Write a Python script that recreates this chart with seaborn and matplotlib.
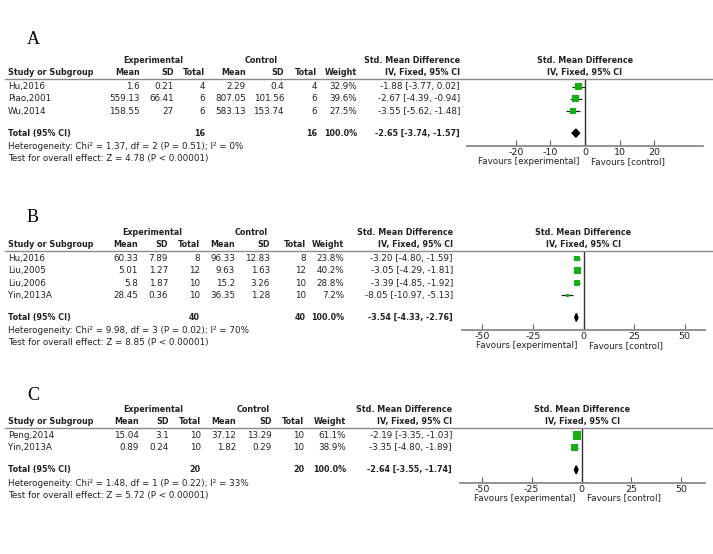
"""
Forest plots (panels A, B, C) - Std. Mean Difference, IV, Fixed
"""

import numpy as np
import pandas as pd
import matplotlib.pyplot as plt
import seaborn as sns
from matplotlib.lines import Line2D

# ============================================================================
# Data
# ============================================================================

# Panel A
studies_a = ['Hu,2016', 'Piao,2001', 'Wu,2014']
exp_mean_a = [1.6, 559.13, 158.55]
exp_sd_a = [0.21, 66.41, 27]
exp_n_a = [4, 6, 6]
ctl_mean_a = [2.29, 807.05, 583.13]
ctl_sd_a = [0.4, 101.56, 153.74]
ctl_n_a = [4, 6, 6]
weight_a = [32.9, 39.6, 27.5]
smd_a = [-1.88, -2.67, -3.55]
lo_a = [-3.77, -4.39, -5.62]
hi_a = [0.02, -0.94, -1.48]
total_a = [-2.65, -3.74, -1.57]   # estimate, lower, upper
het_a = 'Heterogeneity: Chi² = 1.37, df = 2 (P = 0.51); I² = 0%'
test_a = 'Test for overall effect: Z = 4.78 (P < 0.00001)'
ticks_a = [-20, -10, 0, 10, 20]

# Panel B
studies_b = ['Hu,2016', 'Liu,2005', 'Liu,2006', 'Yin,2013A']
exp_mean_b = [60.33, 5.01, 5.8, 28.45]
exp_sd_b = [7.89, 1.27, 1.87, 0.36]
exp_n_b = [8, 12, 10, 10]
ctl_mean_b = [96.33, 9.63, 15.2, 36.35]
ctl_sd_b = [12.83, 1.63, 3.26, 1.28]
ctl_n_b = [8, 12, 10, 10]
weight_b = [23.8, 40.2, 28.8, 7.2]
smd_b = [-3.20, -3.05, -3.39, -8.05]
lo_b = [-4.80, -4.29, -4.85, -10.97]
hi_b = [-1.59, -1.81, -1.92, -5.13]
total_b = [-3.54, -4.33, -2.76]
het_b = 'Heterogeneity: Chi² = 9.98, df = 3 (P = 0.02); I² = 70%'
test_b = 'Test for overall effect: Z = 8.85 (P < 0.00001)'
ticks_b = [-50, -25, 0, 25, 50]

# Panel C
studies_c = ['Peng,2014', 'Yin,2013A']
exp_mean_c = [15.04, 0.89]
exp_sd_c = [3.1, 0.24]
exp_n_c = [10, 10]
ctl_mean_c = [37.12, 1.82]
ctl_sd_c = [13.29, 0.29]
ctl_n_c = [10, 10]
weight_c = [61.1, 38.9]
smd_c = [-2.19, -3.35]
lo_c = [-3.35, -4.80]
hi_c = [-1.03, -1.89]
total_c = [-2.64, -3.55, -1.74]
het_c = 'Heterogeneity: Chi² = 1.48, df = 1 (P = 0.22); I² = 33%'
test_c = 'Test for overall effect: Z = 5.72 (P < 0.00001)'
ticks_c = [-50, -25, 0, 25, 50]

# ============================================================================
# Style
# ============================================================================

sns.set_theme(style='white')
plt.rcParams['font.family'] = ['DejaVu Sans']
plt.rcParams['axes.unicode_minus'] = False

W, H = 713, 554
FS = 6.3
FSB = 5.8   # bold header text is narrower in the reference
TXT = '#222222'
GREEN = '#16b016'

fig = plt.figure(figsize=(W / 100, H / 100), dpi=100)
fig.patch.set_facecolor('white')


def fp(x, y):
    # pixel -> figure fraction
    return x / W, 1 - y / H


def put(x, y, s, ha='right', bold=False, **kw):
    fig.text(*fp(x, y), s, ha=ha, va='center', fontsize=FSB if bold else FS,
             color=TXT, fontweight='bold' if bold else 'normal', **kw)


def draw_panel(letter, letter_y, y0, cols, exp_c, ctl_c, fx, xlim, ticks,
               studies, em, esd, en, cm, csd, cn, w, smd, lo, hi, tot, het, test):
    n = len(studies)
    step = 12.3
    rows_px = [y0 + 7.5 + i * step for i in range(n)]
    total_px = rows_px[-1] + 22
    axis_px = total_px + 13

    fig.text(*fp(27, letter_y), letter, family='Liberation Serif', fontsize=13,
             va='center', ha='left', color='black')

    # headers
    h1, h2 = y0 - 18.5, y0 - 6.5
    put(exp_c, h1, 'Experimental', ha='center', bold=True)
    put(ctl_c, h1, 'Control', ha='center', bold=True)
    put(cols[7] - 48, h1, 'Std. Mean Difference', ha='center', bold=True)
    put(8, h2, 'Study or Subgroup', ha='left', bold=True)
    for x, s in zip(cols, ['Mean', 'SD', 'Total', 'Mean', 'SD', 'Total',
                           'Weight', 'IV, Fixed, 95% CI']):
        put(x, h2, s, bold=True)
    fcen = (fx[0] + fx[1]) / 2
    put(fcen, h1, 'Std. Mean Difference', ha='center', bold=True)
    put(fcen, h2, 'IV, Fixed, 95% CI', ha='center', bold=True)

    fig.add_artist(Line2D([5 / W, 1], [1 - y0 / H] * 2, color='#8a8a8a', lw=1.0))

    # study rows
    for i in range(n):
        y = rows_px[i]
        put(8, y, studies[i], ha='left')
        vals = [f'{em[i]:g}', f'{esd[i]:g}', f'{en[i]}', f'{cm[i]:g}',
                f'{csd[i]:g}', f'{cn[i]}', f'{w[i]:.1f}%',
                f'{smd[i]:.2f} [{lo[i]:.2f}, {hi[i]:.2f}]']
        for x, s in zip(cols, vals):
            put(x, y, s)

    # total row
    put(8, total_px, 'Total (95% CI)', ha='left', bold=True)
    put(cols[2], total_px, f'{sum(en)}', bold=True)
    put(cols[5], total_px, f'{sum(cn)}', bold=True)
    put(cols[6], total_px, f'{sum(w):.1f}%', bold=True)
    put(cols[7], total_px, f'{tot[0]:.2f} [{tot[1]:.2f}, {tot[2]:.2f}]', bold=True)
    put(8, total_px + 13.5, het, ha='left')
    put(8, total_px + 25.5, test, ha='left')

    # forest axes
    l, r = fx
    ax = fig.add_axes([l / W, 1 - axis_px / H, (r - l) / W, (axis_px - y0) / H])
    ax.set_facecolor('none')

    df = pd.DataFrame({'smd': smd, 'row': np.arange(n), 'weight': w})
    ax.hlines(df['row'], lo, hi, color=TXT, lw=0.9, zorder=2)
    k = 0.63
    sns.scatterplot(data=df, x='smd', y='row', size='weight',
                    sizes=(k * min(w), k * max(w)), marker='s', color=GREEN,
                    linewidth=0, legend=False, ax=ax, zorder=3)

    ty = (total_px - rows_px[0]) / step
    ax.fill([tot[1], tot[0], tot[2], tot[0]], [ty, ty - 0.33, ty, ty + 0.33],
            color='black', zorder=3)
    ax.axvline(0, color='#333333', lw=1.0, zorder=1)

    ax.set_xlim(xlim)
    ax.set_ylim((axis_px - rows_px[0]) / step, -7.5 / step)
    ax.set_xticks(ticks)
    ax.set_yticks([])
    ax.set_xlabel('')
    ax.set_ylabel('')
    for s in ['top', 'right', 'left']:
        ax.spines[s].set_visible(False)
    ax.spines['bottom'].set_color('#8a8a8a')
    ax.spines['bottom'].set_linewidth(1.3)
    ax.tick_params(axis='x', direction='in', length=4, width=0.8, colors='#666666',
                   labelcolor=TXT, labelsize=FS + 0.5, pad=1.5, bottom=True)

    ax.annotate('Favours [experimental]', xy=(0, 0), xycoords=('data', 'axes fraction'),
                xytext=(-4, -11), textcoords='offset points', ha='right', va='center',
                fontsize=FS, color=TXT)
    ax.annotate('Favours [control]', xy=(0, 0), xycoords=('data', 'axes fraction'),
                xytext=(4, -11), textcoords='offset points', ha='left', va='center',
                fontsize=FS, color=TXT)


# ============================================================================
# Panels
# ============================================================================

draw_panel('A', 39, 79, [140, 174, 205, 246, 284, 317, 357, 460], 153, 261,
           (467, 703), (-34.2, 34.2), ticks_a,
           studies_a, exp_mean_a, exp_sd_a, exp_n_a, ctl_mean_a, ctl_sd_a, ctl_n_a,
           weight_a, smd_a, lo_a, hi_a, total_a, het_a, test_a)

draw_panel('B', 217.5, 251, [138, 168, 200, 235, 270, 306, 344, 453], 152, 251,
           (462, 705), (-60, 60), ticks_b,
           studies_b, exp_mean_b, exp_sd_b, exp_n_b, ctl_mean_b, ctl_sd_b, ctl_n_b,
           weight_b, smd_b, lo_b, hi_b, total_b, het_b, test_b)

draw_panel('C', 395, 428, [139, 169, 201, 236, 272, 304, 346, 452], 153.5, 253,
           (460, 705), (-61, 62), ticks_c,
           studies_c, exp_mean_c, exp_sd_c, exp_n_c, ctl_mean_c, ctl_sd_c, ctl_n_c,
           weight_c, smd_c, lo_c, hi_c, total_c, het_c, test_c)

plt.savefig('out.png', dpi=100)
plt.close()
